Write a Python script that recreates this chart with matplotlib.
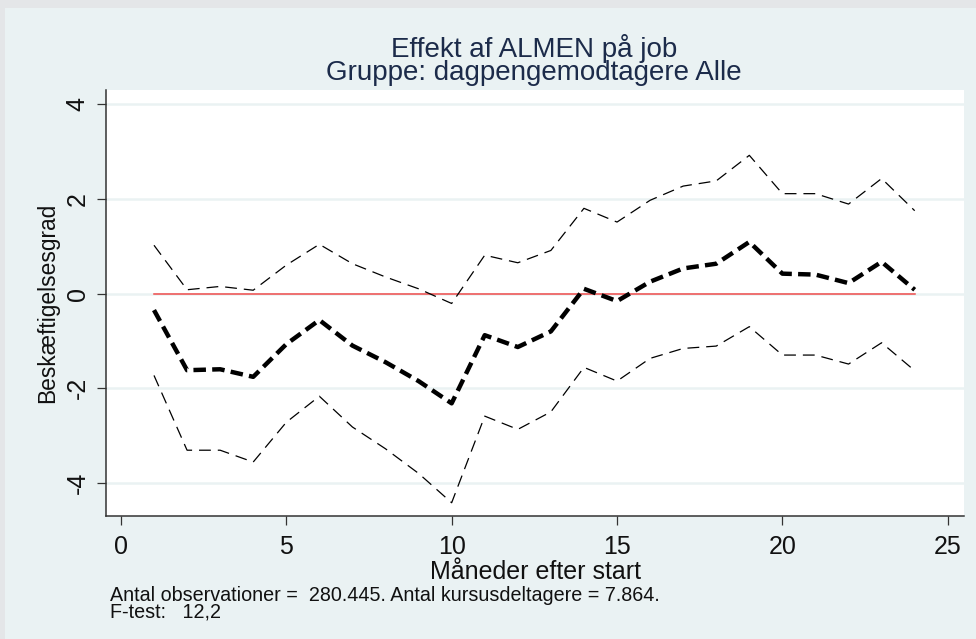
import matplotlib
matplotlib.use('Agg')
import matplotlib.pyplot as plt
from matplotlib.patches import Rectangle

plt.rcParams['font.family'] = ['Liberation Sans', 'DejaVu Sans']
plt.rcParams['lines.scale_dashes'] = False

# Maaneder efter start og estimater (aflaest fra figuren)
maaneder = list(range(1, 25))
effekt = [-0.35, -1.62, -1.60, -1.76, -1.07, -0.56, -1.10, -1.45, -1.85, -2.32,
          -0.88, -1.13, -0.80, 0.10, -0.16, 0.25, 0.53, 0.63, 1.09, 0.42,
          0.40, 0.22, 0.67, 0.08]
oevre = [1.02, 0.08, 0.15, 0.07, 0.60, 1.04, 0.63, 0.35, 0.10, -0.21,
         0.81, 0.65, 0.91, 1.80, 1.51, 1.97, 2.27, 2.38, 2.92, 2.11,
         2.11, 1.89, 2.43, 1.75]
nedre = [-1.73, -3.31, -3.31, -3.56, -2.72, -2.17, -2.82, -3.28, -3.80, -4.42,
         -2.59, -2.87, -2.50, -1.56, -1.85, -1.37, -1.16, -1.11, -0.70, -1.30,
         -1.30, -1.49, -1.04, -1.63]

xticks = [0, 5, 10, 15, 20, 25]
yticks = [-4, -2, 0, 2, 4]

titel = 'Effekt af ALMEN på job\nGruppe: dagpengemodtagere Alle'
xlabel = 'Måneder efter start'
ylabel = 'Beskæftigelsesgrad'
note = ('Antal observationer =  280.445. Antal kursusdeltagere = 7.864.\n'
        'F-test:   12,2')

W, H = 976, 639
fig = plt.figure(figsize=(W / 100, H / 100), dpi=100)
fig.patch.set_facecolor('#e4e6e8')
fig.patches.append(Rectangle((5 / W, 0), 1, (H - 8) / H, transform=fig.transFigure,
                             facecolor='#eaf2f3', edgecolor='none', zorder=-5))

ax = fig.add_axes([105.7 / W, (H - 516) / H, (964.3 - 105.7) / W, (516 - 90) / H])
ax.set_zorder(2)
ax.set_facecolor('white')

ax.plot(maaneder, [0] * len(maaneder), color='#ee4b4b', lw=1.1, zorder=2)
ax.plot(maaneder, oevre, color='black', lw=0.9, dashes=(8.5, 5), zorder=3)
ax.plot(maaneder, nedre, color='black', lw=0.9, dashes=(8.5, 5), zorder=3)
ax.plot(maaneder, effekt, color='black', lw=3.2, dashes=(9, 4.5), zorder=4)

ax.set_xlim(-0.46, 25.5)
ax.set_ylim(-4.70, 4.30)
ax.set_xticks(xticks)
ax.set_yticks(yticks)
ax.set_yticklabels([str(v) for v in yticks], rotation=90, va='center')
ax.grid(axis='y', color='#eaf2f3', lw=1.8)
ax.set_axisbelow(True)

for side in ['top', 'right']:
    ax.spines[side].set_visible(False)
for side in ['left', 'bottom']:
    ax.spines[side].set_color('#333333')
    ax.spines[side].set_linewidth(1.1)
ax.tick_params(length=6.5, width=0.9, color='#333333', labelsize=18,
               labelcolor='#111111')
ax.tick_params(axis='x', pad=7)
ax.tick_params(axis='y', pad=5)

ax.set_xlabel(xlabel, fontsize=18, color='#111111', labelpad=1)
ax.set_ylabel(ylabel, fontsize=16.4, color='#111111', va='center')
ax.yaxis.set_label_coords((48 - 105.7) / 858.6, 0.5)

fig.text(534 / W, 1 - 80 / H, titel, ha='center', va='baseline', fontsize=20,
         color='#1c2b4a', linespacing=0.83, multialignment='center')
fig.text(110 / W, 1 - 617 / H, note, ha='left', va='baseline', fontsize=14.2,
         color='#111111', linespacing=0.79)

fig.savefig('out.png', dpi=100, facecolor=fig.get_facecolor())
